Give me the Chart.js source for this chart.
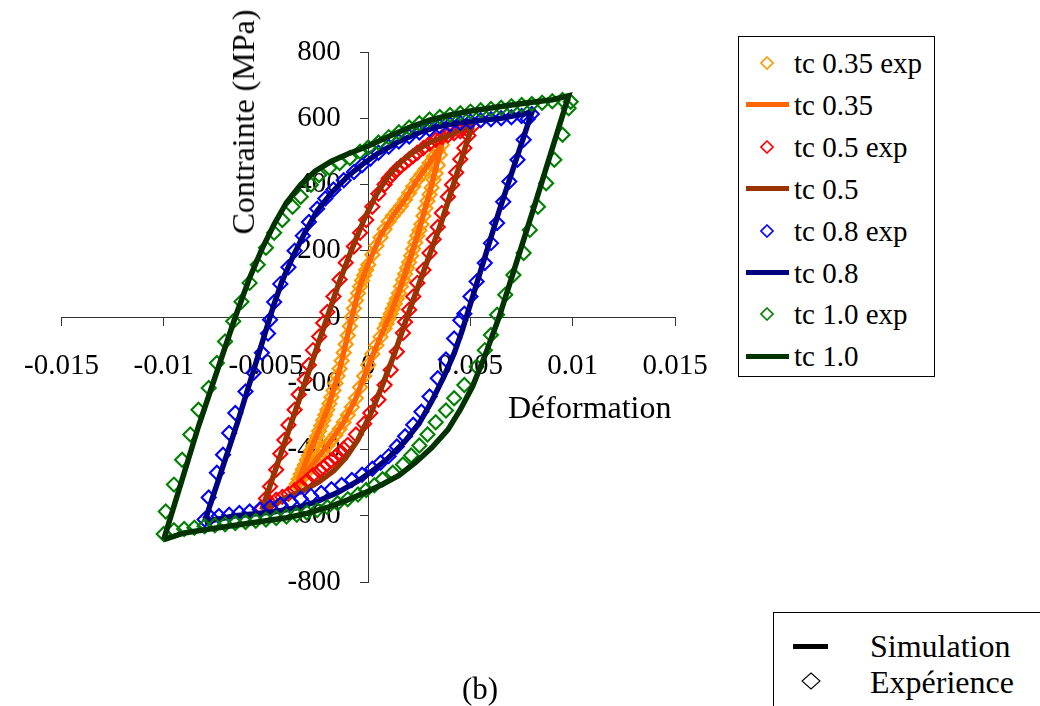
<!DOCTYPE html>
<html>
<head>
<meta charset="utf-8">
<title>Contrainte - Déformation</title>
<script src="https://cdn.jsdelivr.net/npm/chart.js@4.4.1/dist/chart.umd.min.js"></script>
<style>
  html, body { margin: 0; padding: 0; background: #fff; }
  body { width: 1040px; height: 706px; position: relative; overflow: hidden;
         font-family: 'Liberation Serif', 'Times New Roman', serif; color: #000; }
  #wrap { position: absolute; left: 0; top: 0; width: 1040px; height: 706px; }
  .txt { position: absolute; white-space: nowrap; line-height: 1; }
  #legend { position: absolute; left: 738px; top: 36px; width: 195px; height: 339px;
            border: 1px solid #000; background: #fff; }
  .row { position: absolute; left: 0; width: 195px; height: 42px; }
  .row .sym { position: absolute; left: 7px; top: 0; width: 43px; height: 42px; }
  .row .lab { position: absolute; left: 55px; top: 50%; transform: translateY(-50%);
              font-size: 29px; line-height: 1; white-space: nowrap; }
  #note { position: absolute; left: 773px; top: 612px; width: 320px; height: 140px;
          border: 1.5px solid #000; background: #fff; }
</style>
</head>
<body>
<div id="wrap"><canvas id="chart"></canvas></div>

<div class="txt" id="ytitle" style="font-size:32px; left:243px; top:122px; transform: translate(-50%,-50%) rotate(-90deg);">Contrainte (MPa)</div>
<div class="txt" style="font-size:32px; left:508px; top:407px; transform: translateY(-50%);">Déformation</div>

<div id="legend"></div>

<div id="note">
  <div style="position:absolute; left:19px; top:31px; width:35px; height:5px; background:#000;"></div>
  <div class="txt" style="font-size:32px; left:96px; top:33px; transform: translateY(-50%);">Simulation</div>
  <svg style="position:absolute; left:27px; top:59px;" width="20" height="18">
    <polygon points="10,1 19,9 10,17 1,9" fill="none" stroke="#000" stroke-width="1.1"/>
  </svg>
  <div class="txt" style="font-size:32px; left:96px; top:69px; transform: translateY(-50%);">Expérience</div>
</div>

<div class="txt" style="font-size:31px; left:480px; top:688px; transform: translate(-50%,-50%);">(b)</div>

<script>
// axes
const xTicks = [-0.015, -0.01, -0.005, 0, 0.005, 0.01, 0.015];
const yTicks = [-800, -600, -400, -200, 0, 200, 400, 600, 800];

// tc 0.35 : points exp
const tc035Exp = [
  [-0.0035,-505],[-0.0034,-490],[-0.0033,-475],[-0.0032,-460],[-0.0031,-447],[-0.0030,-432],
  [-0.0029,-418],[-0.0028,-404],[-0.0027,-390],[-0.0026,-375],[-0.0025,-360],[-0.0024,-344],
  [-0.0023,-328],[-0.0022,-312],[-0.0021,-296],[-0.0020,-280],[-0.0019,-262],[-0.0018,-242],
  [-0.0017,-222],[-0.0016,-200],[-0.0015,-178],[-0.0014,-156],[-0.0013,-132],[-0.0012,-108],
  [-0.0011,-82],[-0.0010,-56],[-0.0009,-28],[-0.0008,0],[-0.0007,26],[-0.0006,50],
  [-0.0005,72],[-0.0004,92],[-0.0003,110],[-0.0002,126],[-0.0001,142],[0.0000,158],
  [0.0002,188],[0.0004,215],[0.0006,240],[0.0008,265],[0.0010,288],[0.0012,305],
  [0.0014,320],[0.0016,335],[0.0018,354],[0.0020,374],[0.0022,394],[0.0024,414],
  [0.0026,430],[0.0028,446],[0.0030,465],[0.0032,484],[0.0034,503],[0.0036,520],
  [0.0035,490],[0.0034,458],[0.0033,434],[0.0032,414],[0.0031,390],[0.0030,370],
  [0.0029,350],[0.0028,328],[0.0027,305],[0.0026,280],[0.0025,262],[0.0024,245],
  [0.0023,225],[0.0022,205],[0.0021,185],[0.0020,165],[0.0019,148],[0.0018,130],
  [0.0017,112],[0.0016,92],[0.0015,72],[0.0014,55],[0.0013,40],[0.0012,25],
  [0.0011,10],[0.0010,-5],[0.0009,-20],[0.0008,-35],[0.0006,-60],[0.0004,-85],
  [0.0002,-112],[0.0000,-145],[-0.0002,-178],[-0.0004,-212],[-0.0006,-245],[-0.0008,-272],
  [-0.0010,-296],[-0.0012,-318],[-0.0014,-338],[-0.0016,-356],[-0.0018,-372],[-0.0020,-388],
  [-0.0022,-404],[-0.0024,-420],[-0.0026,-436],[-0.0028,-452],[-0.0030,-468],[-0.0032,-484],
  [-0.0034,-498]
];
// tc 0.35 : simulation
const tc035Sim = [
  [-0.0035,-508],[-0.0028,-400],[-0.0020,-280],[-0.0014,-160],[-0.0008,0],[-0.0004,95],
  [0.0000,160],[0.0006,245],[0.0012,305],[0.0018,355],[0.0024,414],[0.0030,466],[0.0036,522],
  [0.0030,375],[0.0024,245],[0.0018,130],[0.0012,25],[0.0006,-60],[0.0000,-148],
  [-0.0006,-245],[-0.0012,-318],[-0.0018,-372],[-0.0024,-420],[-0.0030,-468],[-0.0035,-508]
];

// tc 0.5
const tc05Exp = [
  [-0.0052,-578],[-0.0050,-548],[-0.0048,-512],[-0.0045,-461],[-0.0043,-413],[-0.0041,-371],
  [-0.0039,-326],[-0.0036,-280],[-0.0034,-234],[-0.0031,-189],[-0.0029,-145],[-0.0027,-100],
  [-0.0024,-59],[-0.0022,-18],[-0.0020,15],[-0.0017,62],[-0.0014,113],[-0.0011,164],
  [-0.0007,213],[-0.0004,254],[-0.0001,293],[0.0002,333],[0.0005,372],[0.0008,400],
  [0.0010,418],[0.0012,432],[0.0014,445],[0.0016,456],[0.0018,466],[0.0020,476],
  [0.0022,486],[0.0024,496],[0.0027,510],[0.0030,524],[0.0033,535],[0.0036,543],
  [0.0039,549],[0.0042,555],[0.0045,561],[0.0048,568],[0.0051,576],
  [0.0049,548],[0.0047,510],[0.0045,476],[0.0043,436],[0.0041,399],[0.0039,363],
  [0.0036,314],[0.0034,272],[0.0032,235],[0.0030,193],[0.0027,142],[0.0024,103],
  [0.0022,62],[0.0020,22],[0.0018,-15],[0.0017,-48],[0.0014,-105],[0.0011,-160],
  [0.0008,-205],[0.0005,-250],[0.0001,-290],[-0.0002,-322],[-0.0006,-355],[-0.0010,-386],
  [-0.0012,-398],[-0.0014,-410],[-0.0016,-422],[-0.0018,-433],[-0.0020,-444],[-0.0022,-454],
  [-0.0024,-464],[-0.0027,-478],[-0.0030,-494],[-0.0033,-510],[-0.0036,-523],[-0.0039,-534],
  [-0.0042,-543],[-0.0045,-552],[-0.0048,-562]
];
const tc05Sim = [
  [-0.0052,-582],[-0.0036,-290],[-0.0020,0],[-0.0014,108],[-0.0008,205],[-0.0002,295],
  [0.0004,370],[0.0010,428],[0.0016,468],[0.0022,498],[0.0030,527],[0.0040,550],[0.0051,580],
  [0.0036,290],[0.0019,0],[0.0013,-108],[0.0007,-205],[0.0001,-295],[-0.0005,-370],
  [-0.0011,-425],[-0.0017,-465],[-0.0024,-497],[-0.0032,-525],[-0.0042,-550],[-0.0052,-582]
];

// tc 0.8
const tc08Exp = [
  [-0.0080,-611],[-0.0078,-545],[-0.0074,-470],[-0.0071,-416],[-0.0068,-350],[-0.0065,-290],
  [-0.0060,-225],[-0.0056,-168],[-0.0052,-108],[-0.0049,-50],[-0.0048,-8],[-0.0046,45],
  [-0.0043,100],[-0.0039,150],[-0.0036,200],[-0.0032,245],[-0.0029,287],[-0.0025,327],
  [-0.0021,358],[-0.0017,385],[-0.0012,413],[-0.0007,438],[-0.0003,458],[0.0001,478],
  [0.0005,496],[0.0010,514],[0.0015,530],[0.0020,545],[0.0025,557],[0.0030,567],
  [0.0035,575],[0.0040,581],[0.0045,586],[0.0050,590],[0.0055,594],[0.0060,597],
  [0.0065,600],[0.0070,603],[0.0075,607],[0.0080,613],
  [0.0078,598],[0.0076,535],[0.0073,475],[0.0069,409],[0.0066,348],[0.0063,284],
  [0.0060,223],[0.0057,163],[0.0053,107],[0.0050,62],[0.0047,10],[0.0045,-10],
  [0.0042,-65],[0.0038,-128],[0.0034,-185],[0.0030,-240],[0.0026,-286],[0.0022,-325],
  [0.0018,-360],[0.0014,-391],[0.0010,-420],[0.0006,-440],[0.0002,-458],[-0.0003,-476],
  [-0.0008,-492],[-0.0013,-507],[-0.0018,-520],[-0.0023,-531],[-0.0028,-540],[-0.0033,-549],
  [-0.0038,-558],[-0.0043,-566],[-0.0048,-574],[-0.0053,-581],[-0.0058,-587],[-0.0063,-592],
  [-0.0068,-597],[-0.0073,-601],[-0.0077,-605]
];
const tc08Sim = [
  [-0.0080,-618],[-0.0064,-320],[-0.0050,-40],[-0.0046,40],[-0.0042,110],[-0.0037,180],
  [-0.0031,255],[-0.0025,320],[-0.0018,375],[-0.0010,425],[-0.0003,460],[0.0005,495],
  [0.0015,530],[0.0025,557],[0.0035,576],[0.0045,587],[0.0055,594],[0.0065,600],[0.0080,618],
  [0.0064,320],[0.0050,40],[0.0046,-40],[0.0042,-110],[0.0037,-180],[0.0031,-255],
  [0.0025,-320],[0.0018,-375],[0.0010,-425],[0.0003,-460],[-0.0005,-495],[-0.0015,-530],
  [-0.0025,-557],[-0.0035,-576],[-0.0045,-587],[-0.0055,-594],[-0.0065,-600],[-0.0080,-618]
];

// tc 1.0
const tc10Exp = [
  [-0.0100,-655],[-0.0099,-587],[-0.0095,-506],[-0.0091,-431],[-0.0087,-355],[-0.0083,-280],
  [-0.0078,-214],[-0.0074,-139],[-0.0070,-74],[-0.0066,-13],[-0.0062,46],[-0.0058,103],
  [-0.0054,158],[-0.0050,209],[-0.0046,254],[-0.0042,293],[-0.0037,333],[-0.0033,363],
  [-0.0028,399],[-0.0024,429],[-0.0019,450],[-0.0014,465],[-0.0009,480],[-0.0004,499],
  [0.0000,512],[0.0005,527],[0.0010,543],[0.0015,558],[0.0020,572],[0.0025,585],
  [0.0030,596],[0.0035,604],[0.0040,610],[0.0045,615],[0.0050,620],[0.0055,624],
  [0.0060,628],[0.0065,632],[0.0070,636],[0.0075,640],[0.0080,643],[0.0085,647],
  [0.0090,651],[0.0095,655],[0.0099,650],
  [0.0098,630],[0.0095,550],[0.0091,475],[0.0087,404],[0.0083,333],[0.0079,263],
  [0.0076,193],[0.0071,127],[0.0067,67],[0.0063,7],[0.0060,-54],[0.0057,-100],
  [0.0053,-150],[0.0047,-205],[0.0042,-245],[0.0038,-282],[0.0033,-318],[0.0029,-355],
  [0.0025,-388],[0.0021,-418],[0.0017,-445],[0.0012,-470],[0.0007,-490],[0.0003,-508],
  [-0.0001,-522],[-0.0005,-536],[-0.0010,-550],[-0.0015,-562],[-0.0020,-574],[-0.0025,-583],
  [-0.0030,-590],[-0.0035,-597],[-0.0040,-602],[-0.0045,-607],[-0.0050,-611],[-0.0055,-615],
  [-0.0060,-619],[-0.0065,-622],[-0.0070,-626],[-0.0075,-629],[-0.0080,-632],[-0.0085,-636],
  [-0.0090,-640],[-0.0095,-644]
];
const tc10Sim = [
  [-0.0100,-672],[-0.0083,-330],[-0.0065,0],[-0.0058,118],[-0.0052,205],[-0.0046,280],
  [-0.0040,345],[-0.0033,400],[-0.0026,440],[-0.0018,470],[-0.0010,492],[0.0000,516],
  [0.0010,545],[0.0020,572],[0.0030,594],[0.0040,610],[0.0050,622],[0.0060,631],
  [0.0070,640],[0.0080,648],[0.0090,656],[0.0098,668],
  [0.0081,330],[0.0064,0],[0.0057,-118],[0.0051,-210],[0.0045,-280],[0.0039,-340],
  [0.0031,-395],[0.0023,-440],[0.0015,-478],[0.0007,-505],[0.0000,-526],[-0.0010,-552],
  [-0.0020,-575],[-0.0030,-593],[-0.0040,-606],[-0.0050,-615],[-0.0060,-624],[-0.0070,-633],
  [-0.0080,-642],[-0.0090,-652],[-0.0100,-672]
];

const seriesData = [tc035Exp, tc035Sim, tc05Exp, tc05Sim, tc08Exp, tc08Sim, tc10Exp, tc10Sim];
const seriesLabels = ['tc 0.35 exp', 'tc 0.35', 'tc 0.5 exp', 'tc 0.5', 'tc 0.8 exp', 'tc 0.8', 'tc 1.0 exp', 'tc 1.0'];
const seriesColors = ['#FF9900', '#FF6600', '#FF0000', '#993300', '#0000FF', '#000080', '#008000', '#003300'];
const seriesIsExp = [true, false, true, false, true, false, true, false];

const FONT = "'Liberation Serif', 'Times New Roman', serif";
Chart.defaults.font.family = FONT;
Chart.defaults.color = '#000';

const datasets = seriesData.map((pts, i) => ({
  label: seriesLabels[i],
  data: pts.map(p => ({ x: p[0], y: p[1] })),
  showLine: !seriesIsExp[i],
  borderColor: seriesColors[i],
  backgroundColor: 'rgba(0,0,0,0)',
  borderWidth: seriesIsExp[i] ? 2 : 5.5,
  pointStyle: 'rectRot',
  pointRadius: seriesIsExp[i] ? 7 : 0,
  pointHoverRadius: seriesIsExp[i] ? 7 : 0,
  pointBorderColor: seriesColors[i],
  pointBorderWidth: 2.1,
  tension: 0,
  // Excel dessine les dernières séries par-dessus
  order: seriesData.length - i
}));

const axisGrid = { display: true, drawOnChartArea: false, drawTicks: true, tickLength: 8, color: '#333', tickColor: '#333' };

const chart = new Chart(document.getElementById('chart'), {
  type: 'scatter',
  data: { datasets: datasets },
  options: {
    responsive: true,
    maintainAspectRatio: false,
    animation: false,
    events: [],
    layout: { padding: { left: 49, right: 365, top: 52, bottom: 124 } },
    plugins: { legend: { display: false }, tooltip: { enabled: false } },
    scales: {
      x: {
        type: 'linear',
        position: { y: 0 },
        min: -0.015, max: 0.015,
        afterBuildTicks: axis => { axis.ticks = xTicks.map(v => ({ value: v })); },
        ticks: { font: { size: 29, family: FONT }, color: '#000', padding: 24, maxRotation: 0,
                 callback: v => String(v) },
        grid: axisGrid,
        border: { display: true, color: '#333', width: 1 }
      },
      y: {
        type: 'linear',
        position: { x: 0 },
        min: -800, max: 800,
        afterBuildTicks: axis => { axis.ticks = yTicks.map(v => ({ value: v })); },
        // avec un axe centré, Chart.js colle les libellés à l'axe : on les décale avec des espaces
        ticks: { font: { size: 29, family: FONT }, color: '#000',
                 callback: v => String(v) + '\u00A0\u00A0\u00A0\u2009' },
        grid: axisGrid,
        border: { display: true, color: '#333', width: 1 }
      }
    }
  }
});

// légende HTML construite à partir des datasets
function buildLegend(c) {
  const box = document.getElementById('legend');
  box.innerHTML = '';
  c.data.datasets.forEach((ds, i) => {
    const row = document.createElement('div');
    row.className = 'row';
    row.style.top = (5 + i * 41.9) + 'px';
    const sym = document.createElement('div');
    sym.className = 'sym';
    if (ds.showLine) {
      sym.innerHTML = '<div style="position:absolute; left:0; top:18.5px; width:43px; height:5px; background:' + ds.borderColor + ';"></div>';
    } else {
      sym.innerHTML = '<svg style="position:absolute; left:14px; top:14px;" width="14" height="14">' +
        '<polygon points="7,1 13,7 7,13 1,7" fill="none" stroke="' + ds.borderColor + '" stroke-width="1.6"/></svg>';
    }
    const lab = document.createElement('div');
    lab.className = 'lab';
    lab.textContent = ds.label;
    row.appendChild(sym);
    row.appendChild(lab);
    box.appendChild(row);
  });
}
buildLegend(chart);
</script>
</body>
</html>
